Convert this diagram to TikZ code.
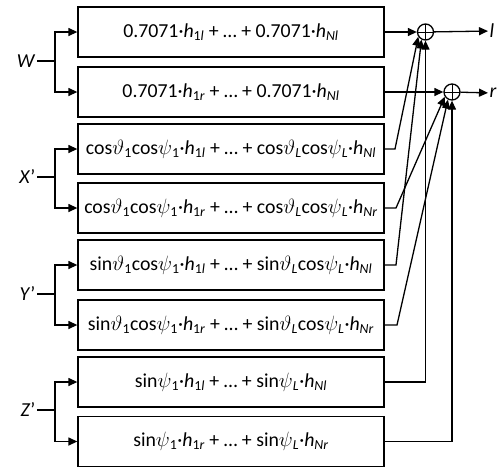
\documentclass[tikz,border=0pt]{standalone}
\usepackage{fontspec}
\setmainfont{Carlito}
\usetikzlibrary{arrows.meta}
\newcommand\hsub[1]{\textit{h}\textsubscript{#1}}
\newcommand\vth[1]{$\vartheta$\textsubscript{#1}}
\newcommand\ps[1]{$\psi$\textsubscript{#1}}
\newcommand\il{\textit{l}}
\newcommand\ir{\textit{r}}
\newcommand\iN{\textit{N}}
\newcommand\iL{\textit{L}}
\begin{document}
\begin{tikzpicture}[x=1pt,y=-1pt,
  line width=1.3pt,
  font=\fontsize{19.8}{23}\selectfont,
  arr/.style={-{Triangle[length=9pt,width=8pt]}},
  box/.style={draw, minimum width=306pt, minimum height=50pt, inner sep=0pt},
  summ/.style={draw, circle, minimum size=16pt, inner sep=0pt,
    path picture={\draw[line width=0.9pt] (path picture bounding box.north) -- (path picture bounding box.south)
      (path picture bounding box.west) -- (path picture bounding box.east);}},
  lab/.style={inner sep=1pt}]
\useasboundingbox (0,0) rectangle (501,467);
% boxes
\node[box] (b1) at (231,32) {0.7071·\hsub{1\il} + … + 0.7071·\hsub{\iN\il}};
\node[box] (b2) at (231,92) {0.7071·\hsub{1\ir} + … + 0.7071·\hsub{\iN\il}};
\node[box] (b3) at (231,149) {cos\vth{1}cos\ps{1}·\hsub{1\il} + … + cos\vth{\iL}cos\ps{\iL}·\hsub{\iN\il}};
\node[box] (b4) at (231,208) {cos\vth{1}cos\ps{1}·\hsub{1\ir} + … + cos\vth{\iL}cos\ps{\iL}·\hsub{\iN\ir}};
\node[box] (b5) at (231,265) {sin\vth{1}cos\ps{1}·\hsub{1\il} + … + sin\vth{\iL}cos\ps{\iL}·\hsub{\iN\il}};
\node[box] (b6) at (231,325) {sin\vth{1}cos\ps{1}·\hsub{1\ir} + … + sin\vth{\iL}cos\ps{\iL}·\hsub{\iN\ir}};
\node[box] (b7) at (231,382) {sin\ps{1}·\hsub{1\il} + … + sin\ps{\iL}·\hsub{\iN\il}};
\node[box] (b8) at (231,441.5) {sin\ps{1}·\hsub{1\ir} + … + sin\ps{\iL}·\hsub{\iN\ir}};
% input labels
\node[lab,anchor=east] (W) at (37,61) {\textit{W}};
\node[lab,anchor=east] (X) at (37,177) {\textit{X}’};
\node[lab,anchor=east] (Y) at (37,294) {\textit{Y}’};
\node[lab,anchor=east] (Z) at (37,410) {\textit{Z}’};
\foreach \g/\a/\b/\yy in {W/b1/b2/61, X/b3/b4/177, Y/b5/b6/294, Z/b7/b8/410}{
  \coordinate (\g j) at (55,\yy);
  \draw (\g) -- (\g j);
  \draw[arr] (\g j) |- (\a.west);
  \draw[arr] (\g j) |- (\b.west);
}
% summation nodes
\node[summ] (sl) at (425.5,32) {};
\node[summ] (sr) at (452,92) {};
\node[lab,anchor=west] (lo) at (488,31) {\textit{l}};
\node[lab,anchor=west] (ro) at (488,93) {\textit{r}};
\draw[arr] (sl) -- (lo);
\draw[arr] (sr) -- (ro);
% connections
\draw[arr] (b1.east) -- (sl);
\draw[arr] (b2.east) -- (sr);
\coordinate (k3) at (395,149);
\coordinate (k4) at (396,208);
\coordinate (k5) at (396,265);
\coordinate (k6) at (397,325);
\draw[arr] (b3.east) -- (k3) -- (sl.213);
\draw[arr] (b5.east) -- (k5) -- (sl.242);
\draw[arr] (b4.east) -- (k4) -- (sr.213);
\draw[arr] (b6.east) -- (k6) -- (sr.242);
\draw[arr] (b7.east) -| (sl.south);
\draw[arr] (b8.east) -| (sr.south);
\end{tikzpicture}
\end{document}
